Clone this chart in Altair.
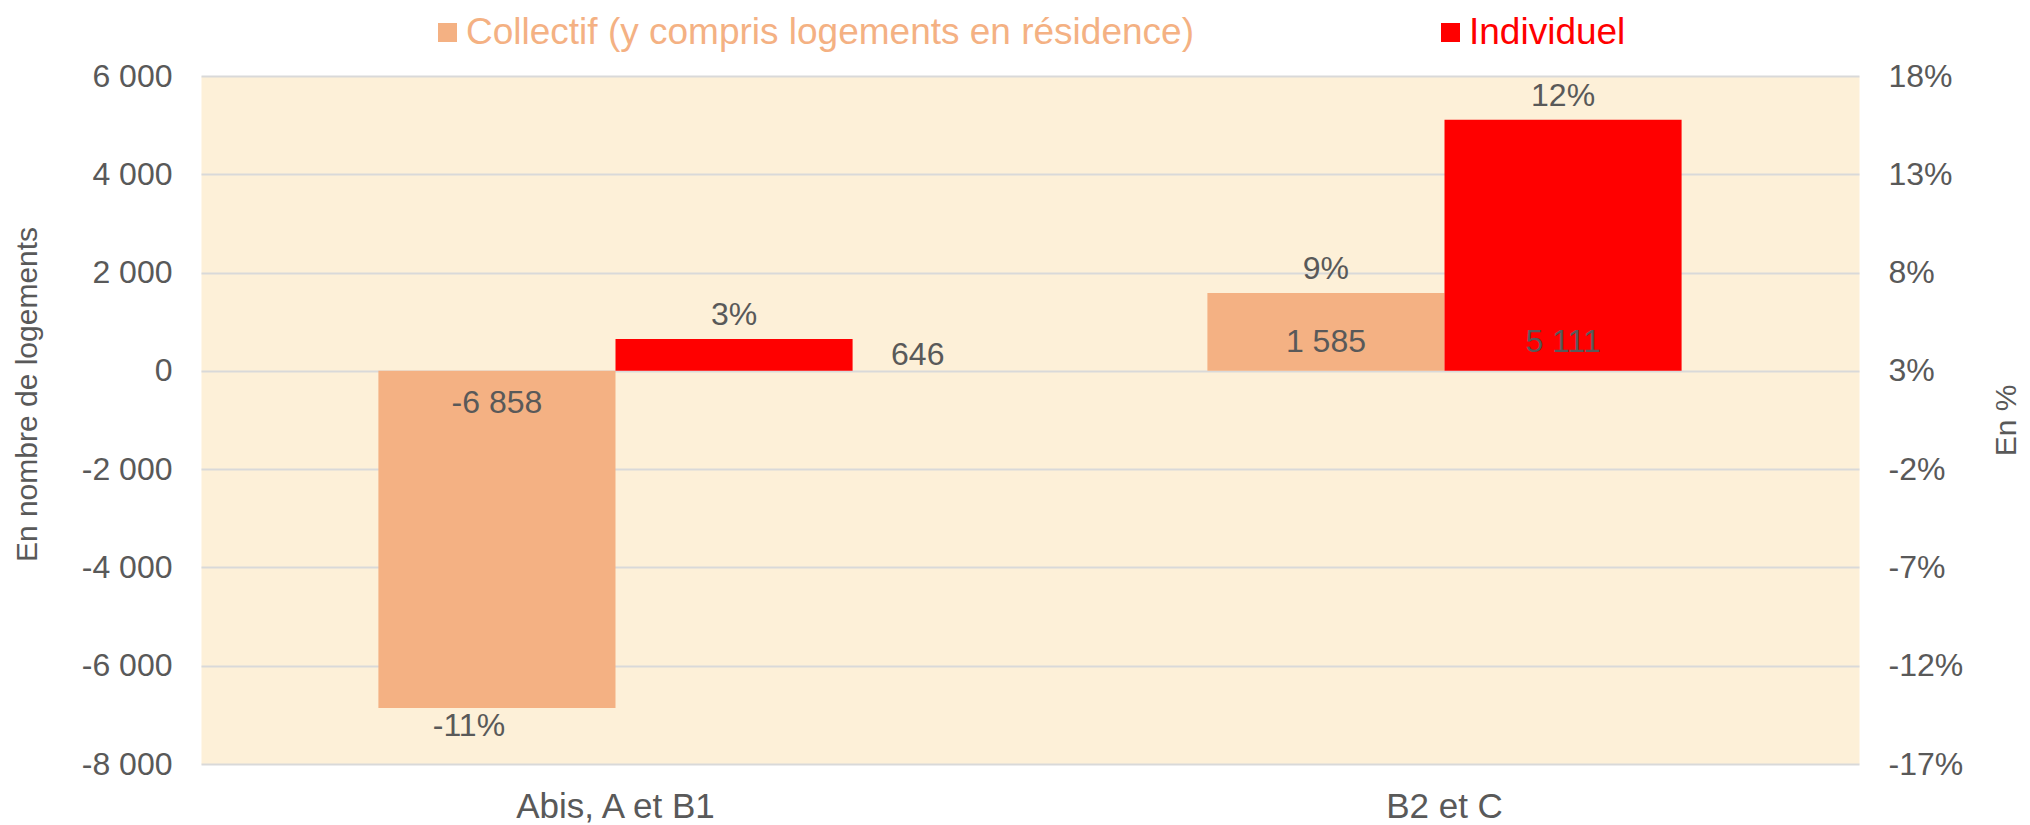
import altair as alt
import pandas as pd

# ---------------- data ----------------
categories = ["Abis, A et B1", "B2 et C"]
series = ["Collectif (y compris logements en résidence)", "Individuel"]
collectif_values = [-6858, 1585]
individuel_values = [646, 5111]
collectif_pct = [-11, 9]
individuel_pct = [3, 12]
left_ticks = [-8000, -6000, -4000, -2000, 0, 2000, 4000, 6000]
right_ticks = [-17, -12, -7, -2, 3, 8, 13, 18]
colors = ["#F4B183", "#FF0000"]

FONT = "Liberation Sans, Arial, Helvetica, sans-serif"
GREY = "#595959"


def fmt(v):
    return ("-" if v < 0 else "") + f"{abs(v):,}".replace(",", " ")


rows = []
for s, vals, pcts in [(series[0], collectif_values, collectif_pct),
                      (series[1], individuel_values, individuel_pct)]:
    for c, v, p in zip(categories, vals, pcts):
        rows.append({"zone": c, "serie": s, "value": v, "pct": p,
                     "vlabel": fmt(v), "plabel": f"{p}%"})
df = pd.DataFrame(rows)

# ---------------- encodings ----------------
x_enc = alt.X("zone:N", sort=categories,
              scale=alt.Scale(domain=categories, paddingInner=0.428, paddingOuter=0.214),
              axis=alt.Axis(title=None, labelFontSize=35, labelColor=GREY, labelFont=FONT,
                            labelPadding=25, labelLimit=2000, ticks=False, domain=False,
                            labelAngle=0))
xoff_enc = alt.XOffset("serie:N", sort=series,
                       scale=alt.Scale(domain=series, paddingInner=0, paddingOuter=0))
y_scale = alt.Scale(domain=[-8000, 6000], nice=False, zero=False)

y_axis = alt.Axis(values=left_ticks,
                  labelExpr="(datum.value < 0 ? '-' : '') + replace(format(abs(datum.value), ',d'), ',', ' ')",
                  grid=True, gridColor="#D9D9D9", gridWidth=2, ticks=False, domain=False,
                  labelPadding=29, labelFontSize=32, labelColor=GREY, labelFont=FONT,
                  title="En nombre de logements", titleFontSize=30, titleFontWeight="normal",
                  titleColor=GREY, titleFont=FONT, titleAngle=-90, titleBaseline="bottom",
                  titleX=-159, titleY=318)


def Y(field):
    return alt.Y(field, scale=y_scale, axis=y_axis)


def legend_for(i, lx):
    return alt.Legend(title=None, orient="none", legendX=lx, legendY=-62,
                      symbolType="square", symbolSize=361, symbolStrokeWidth=0,
                      labelFontSize=37, labelColor=colors[i], labelFont=FONT,
                      labelOffset=0, labelLimit=2000)


base = alt.Chart(df)

bars_c = base.transform_filter(alt.datum.serie == series[0]).mark_bar().encode(
    x=x_enc, xOffset=xoff_enc, y=Y("value:Q"),
    color=alt.Color("serie:N", scale=alt.Scale(domain=[series[0]], range=[colors[0]]),
                    legend=legend_for(0, 228)),
)
bars_i = base.transform_filter(alt.datum.serie == series[1]).mark_bar().encode(
    x=x_enc, xOffset=xoff_enc, y=Y("value:Q"),
    color=alt.Color("serie:N", scale=alt.Scale(domain=[series[1]], range=[colors[1]]),
                    legend=legend_for(1, 1231)),
)

txt = dict(fontSize=32, color=GREY, font=FONT, baseline="middle")

val_pos_in = base.transform_filter("datum.value >= 1000").transform_calculate(base0="0").mark_text(
    dy=-29, **txt).encode(x=x_enc, xOffset=xoff_enc, y=Y("base0:Q"), text="vlabel:N")
val_neg_in = base.transform_filter("datum.value <= -1000").transform_calculate(base0="0").mark_text(
    dy=32, **txt).encode(x=x_enc, xOffset=xoff_enc, y=Y("base0:Q"), text="vlabel:N")
val_out = base.transform_filter("abs(datum.value) < 1000").transform_calculate(
    mid="datum.value / 2").mark_text(dx=157, align="left", **txt).encode(
    x=x_enc, xOffset=xoff_enc, y=Y("mid:Q"), text="vlabel:N")
pct_pos = base.transform_filter("datum.value > 0").mark_text(dy=-24, **txt).encode(
    x=x_enc, xOffset=xoff_enc, y=Y("value:Q"), text="plabel:N")
pct_neg = base.transform_filter("datum.value < 0").mark_text(dy=18, dx=-28, **txt).encode(
    x=x_enc, xOffset=xoff_enc, y=Y("value:Q"), text="plabel:N")

inner = alt.layer(bars_c, bars_i, val_pos_in, val_neg_in, val_out, pct_pos, pct_neg).resolve_scale(
    color="independent").resolve_legend(color="independent")

right = alt.Chart(pd.DataFrame({"tick": right_ticks})).mark_point(opacity=0).encode(
    y=alt.Y("tick:Q", scale=alt.Scale(domain=[-17, 18], nice=False, zero=False),
            axis=alt.Axis(orient="right", values=right_ticks, labelExpr="datum.value + '%'",
                          grid=False, ticks=False, domain=False, labelPadding=29,
                          labelFontSize=32, labelColor=GREY, labelFont=FONT,
                          title="En %", titleFontSize=30, titleFontWeight="normal",
                          titleColor=GREY, titleFont=FONT, titleAngle=-90,
                          titleBaseline="top", titleX=132, titleY=344))
)

chart = alt.layer(inner, right).resolve_scale(y="independent").properties(
    width=1658, height=688,
    autosize=alt.AutoSizeParams(type="none"),
    padding={"left": 193, "top": 68, "right": 162, "bottom": 62},
    background="white",
).configure_view(fill="#FDF0D8", stroke="transparent")

chart.save("out.html", embed_options={"renderer": "svg", "actions": False})
